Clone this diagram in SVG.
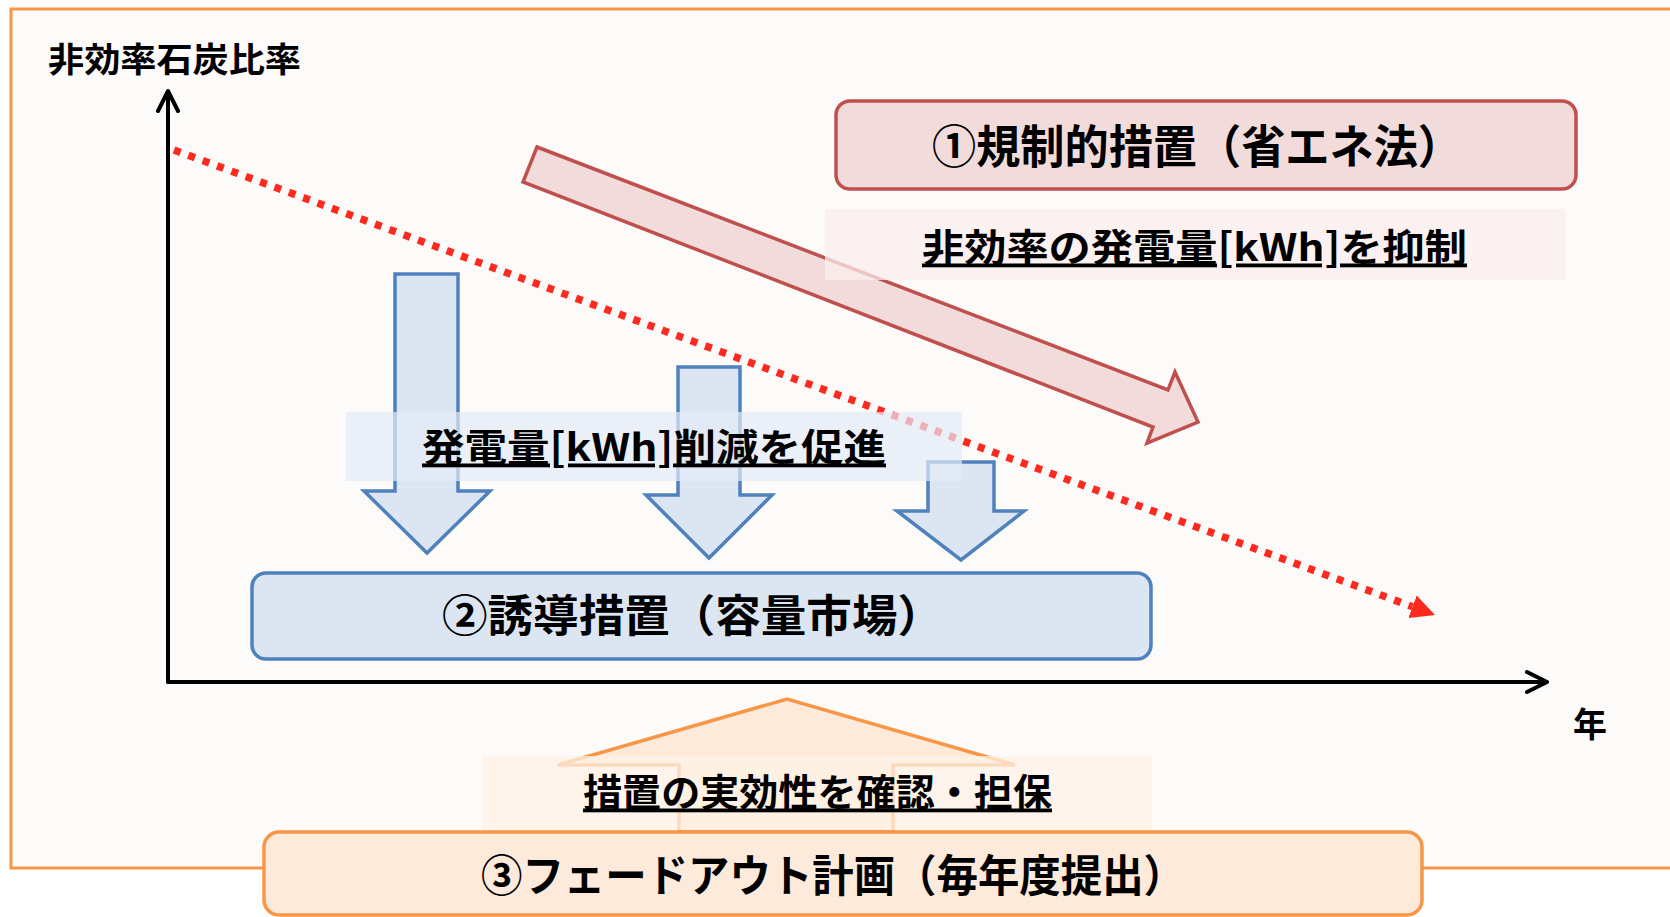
<svg xmlns="http://www.w3.org/2000/svg" width="1670" height="917" viewBox="0 0 1670 917">
<defs>
<style>
text{font-family:"Noto Sans CJK JP","Noto Sans CJK SC",sans-serif;font-weight:700;fill:#000;dominant-baseline:central}
.ul{text-decoration:underline}
.ax{stroke:#000;stroke-width:4;fill:none;stroke-linecap:round;stroke-linejoin:round}
.red{fill:#F2DCDB;stroke:#C0504D;stroke-width:3.5}
.blue{fill:#DCE6F2;stroke:#4F81BD;stroke-width:3.5}
.orange{fill:#FDEADA;stroke:#F79646;stroke-width:3.5}
</style>
<marker id="redtri" markerUnits="userSpaceOnUse" markerWidth="24" markerHeight="24" viewBox="0 0 24 24" refX="0" refY="12" orient="auto"><path d="M0,0 L24,12 L0,24 Z" fill="#FF2A1F"/></marker>
</defs>
<rect x="0" y="0" width="1670" height="917" fill="#FFFFFF"/>
<rect id="frame" x="11" y="9" width="1700" height="859" fill="#FDFBFA" stroke="#F79646" stroke-width="3"/>
<g id="y-label"><text x="48" y="57" font-size="34" textLength="253" lengthAdjust="spacingAndGlyphs">非効率石炭比率</text></g>
<g id="x-label"><text x="1590" y="722" font-size="34" text-anchor="middle">年</text></g>
<g id="connectors">
<path class="ax" d="M168,682 L168,92 M158,111 L168,91 L178,111"/>
<path class="ax" d="M168,682 L1546,682 M1527,672 L1547,682 L1527,692"/>
<line x1="174" y1="150" x2="1412.5" y2="606.7" stroke="#FF2A1F" stroke-width="7.5" stroke-dasharray="7 8.3" marker-end="url(#redtri)"/>
</g>
<g id="red-arrow"><polygon class="red" points="537,147 1168,390 1175,372 1198,422 1147,443 1153,427 523,182"/></g>
<g id="node-regulation">
<rect class="red" x="836" y="101" width="740" height="88" rx="14"/>
<text x="932" y="143" font-size="46" textLength="530" lengthAdjust="spacingAndGlyphs">①規制的措置（省エネ法）</text>
</g>
<g id="label-suppress">
<rect x="825" y="209" width="741" height="71" fill="#FBEDED" opacity="0.75"/>
<text class="ul" x="922" y="244" font-size="38" textLength="545" lengthAdjust="spacingAndGlyphs">非効率の発電量[kWh]を抑制</text>
</g>
<g id="blue-arrows">
<polygon class="blue" points="395,274 458,274 458,491 490,491 427,553 364,491 395,491"/>
<polygon class="blue" points="678,367 740,367 740,495 772,495 709,558 646,495 678,495"/>
<polygon class="blue" points="928,462 994,462 994,511 1024,511 961,560 897,511 928,511"/>
</g>
<g id="label-reduce">
<rect x="346" y="412" width="616" height="69" fill="#E2EBF6" opacity="0.7"/>
<text class="ul" x="422" y="444" font-size="38" textLength="464" lengthAdjust="spacingAndGlyphs">発電量[kWh]削減を促進</text>
</g>
<g id="node-inducement">
<rect class="blue" x="252" y="573" width="899" height="86" rx="14"/>
<text x="442" y="613" font-size="44" textLength="501" lengthAdjust="spacingAndGlyphs">②誘導措置（容量市場）</text>
</g>
<g id="orange-arrow"><polygon class="orange" points="679,832 679,765 558,765 787,699 1015,765 893,765 893,832"/></g>
<g id="label-ensure">
<rect x="482" y="756" width="670" height="74" fill="#FEF1E6" opacity="0.75"/>
<text class="ul" x="583" y="789" font-size="38" textLength="469" lengthAdjust="spacingAndGlyphs">措置の実効性を確認・担保</text>
</g>
<g id="node-fadeout">
<rect class="orange" x="264" y="832" width="1158" height="83" rx="15"/>
<text x="481" y="873" font-size="44" textLength="704" lengthAdjust="spacingAndGlyphs">③フェードアウト計画（毎年度提出）</text>
</g>
</svg>
